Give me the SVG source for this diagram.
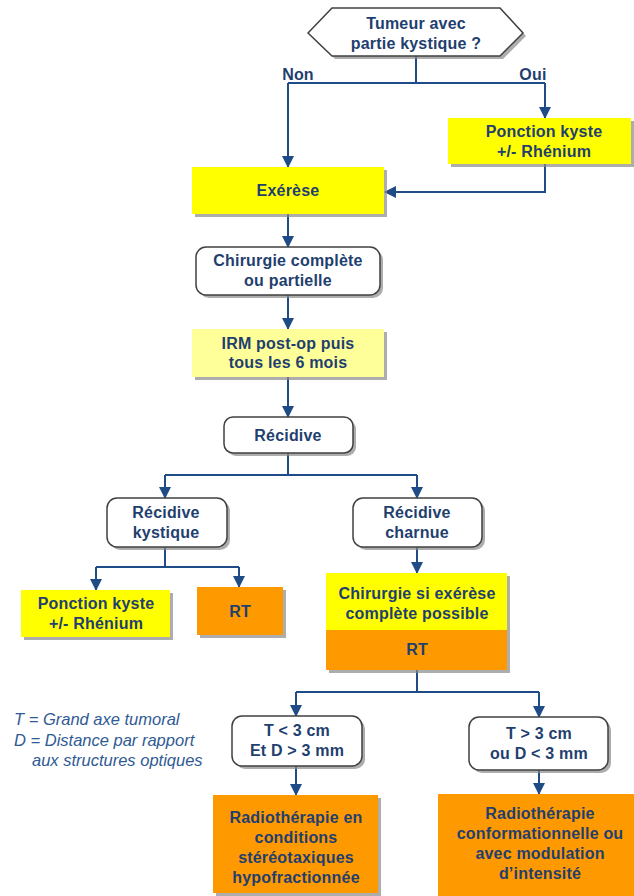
<svg xmlns="http://www.w3.org/2000/svg" width="634" height="896" viewBox="0 0 634 896">
<style>
.t{font-family:"Liberation Sans",Arial,sans-serif;font-weight:bold;font-size:16px;letter-spacing:0.2px;fill:#1F3F6F;text-anchor:middle}
.lg{font-family:"Liberation Sans",Arial,sans-serif;font-style:italic;font-size:16.5px;fill:#2F5A94}
.sh{fill:#8a8a8a;opacity:0.7}
.w{fill:#ffffff;stroke:#404040;stroke-width:1.5}
.y{fill:#ffff00}
.ly{fill:#ffff99}
.o{fill:#ff9900}
.c{fill:none;stroke:#1F4C86;stroke-width:2}
</style>
<defs>
<marker id="ah" markerUnits="userSpaceOnUse" markerWidth="12" markerHeight="12" viewBox="0 0 12 12" refX="11" refY="6" orient="auto">
<path d="M0,0 L12,6 L0,12 Z" fill="#1F4C86"/>
</marker>
</defs>
<rect width="634" height="896" fill="#ffffff"/>
<g id="connectors">
<path class="c" d="M416,56 V83 M288,83 H545"/>
<path class="c" d="M288,83 V167" marker-end="url(#ah)"/>
<path class="c" d="M545,83 V118" marker-end="url(#ah)"/>
<path class="c" d="M545,164 V192 H385" marker-end="url(#ah)"/>
<path class="c" d="M288,214 V247" marker-end="url(#ah)"/>
<path class="c" d="M288,295 V329" marker-end="url(#ah)"/>
<path class="c" d="M288,377 V417" marker-end="url(#ah)"/>
<path class="c" d="M288,453 V475 M165,475 H417"/>
<path class="c" d="M165,475 V498" marker-end="url(#ah)"/>
<path class="c" d="M417,475 V498" marker-end="url(#ah)"/>
<path class="c" d="M165,547 V567 M96,567 H239"/>
<path class="c" d="M96,567 V590" marker-end="url(#ah)"/>
<path class="c" d="M239,567 V587" marker-end="url(#ah)"/>
<path class="c" d="M417,547 V573" marker-end="url(#ah)"/>
<path class="c" d="M417,670 V692 M296,692 H539"/>
<path class="c" d="M296,692 V716" marker-end="url(#ah)"/>
<path class="c" d="M539,692 V717" marker-end="url(#ah)"/>
<path class="c" d="M296,766 V795" marker-end="url(#ah)"/>
<path class="c" d="M539,770 V794" marker-end="url(#ah)"/>
<text class="t" x="298" y="80">Non</text>
<text class="t" x="533" y="80">Oui</text>
</g>
<g id="question">
<polygon class="sh" points="311,36 335,11 503,11 526,36 503,59 335,59"/>
<polygon class="w" points="308,33 332,8 500,8 523,33 500,56 332,56"/>
<text class="t" x="416" y="29">Tumeur avec</text>
<text class="t" x="416" y="49">partie kystique ?</text>
</g>
<g id="ponction1">
<rect class="sh" x="451" y="121" width="183" height="46"/>
<rect class="y" x="448" y="118" width="183" height="46"/>
<text class="t" x="544" y="137">Ponction kyste</text>
<text class="t" x="544" y="157">+/- Rhénium</text>
</g>
<g id="exerese">
<rect class="sh" x="195" y="170" width="192" height="47"/>
<rect class="y" x="192" y="167" width="192" height="47"/>
<text class="t" x="288" y="196">Exérèse</text>
</g>
<g id="chirurgie">
<rect class="sh" x="199" y="250" width="184" height="48" rx="10"/>
<rect class="w" x="196" y="247" width="184" height="48" rx="10"/>
<text class="t" x="288" y="266">Chirurgie complète</text>
<text class="t" x="288" y="286">ou partielle</text>
</g>
<g id="irm">
<rect class="sh" x="195" y="332" width="192" height="48"/>
<rect class="ly" x="192" y="329" width="192" height="48"/>
<text class="t" x="288" y="349">IRM post-op puis</text>
<text class="t" x="288" y="368">tous les 6 mois</text>
</g>
<g id="recidive">
<rect class="sh" x="227" y="420" width="129" height="36" rx="9"/>
<rect class="w" x="224" y="417" width="129" height="36" rx="9"/>
<text class="t" x="288" y="441">Récidive</text>
</g>
<g id="recidive-kystique">
<rect class="sh" x="110" y="501" width="120" height="49" rx="10"/>
<rect class="w" x="107" y="498" width="120" height="49" rx="10"/>
<text class="t" x="166" y="518">Récidive</text>
<text class="t" x="166" y="538">kystique</text>
</g>
<g id="recidive-charnue">
<rect class="sh" x="356" y="501" width="129" height="49" rx="10"/>
<rect class="w" x="353" y="498" width="129" height="49" rx="10"/>
<text class="t" x="417" y="518">Récidive</text>
<text class="t" x="417" y="538">charnue</text>
</g>
<g id="ponction2">
<rect class="sh" x="24" y="593" width="149" height="47"/>
<rect class="y" x="21" y="590" width="149" height="47"/>
<text class="t" x="96" y="609">Ponction kyste</text>
<text class="t" x="96" y="629">+/- Rhénium</text>
</g>
<g id="rt1">
<rect class="sh" x="200" y="590" width="86" height="48"/>
<rect class="o" x="197" y="587" width="86" height="48"/>
<text class="t" x="240" y="617">RT</text>
</g>
<g id="chirurgie-rt">
<rect class="sh" x="329" y="576" width="181" height="97"/>
<rect class="y" x="326" y="573" width="181" height="57"/>
<rect class="o" x="326" y="630" width="181" height="40"/>
<text class="t" x="417" y="599">Chirurgie si exérèse</text>
<text class="t" x="417" y="619">complète possible</text>
<text class="t" x="417" y="655">RT</text>
</g>
<g id="t-small">
<rect class="sh" x="235" y="719" width="130" height="50" rx="10"/>
<rect class="w" x="232" y="716" width="130" height="50" rx="10"/>
<text class="t" x="297" y="736">T &lt; 3 cm</text>
<text class="t" x="297" y="756">Et D &gt; 3 mm</text>
</g>
<g id="t-large">
<rect class="sh" x="472" y="720" width="139" height="53" rx="10"/>
<rect class="w" x="469" y="717" width="139" height="53" rx="10"/>
<text class="t" x="539" y="739">T &gt; 3 cm</text>
<text class="t" x="539" y="759">ou D &lt; 3 mm</text>
</g>
<g id="radio-stereo">
<rect class="sh" x="216" y="798" width="165" height="98"/>
<rect class="o" x="213" y="795" width="165" height="98"/>
<text class="t" x="296" y="823">Radiothérapie en</text>
<text class="t" x="296" y="843">conditions</text>
<text class="t" x="296" y="863">stéréotaxiques</text>
<text class="t" x="296" y="883">hypofractionnée</text>
</g>
<g id="radio-conf">
<rect class="o" x="438" y="794" width="196" height="102"/>
<text class="t" x="540" y="819">Radiothérapie</text>
<text class="t" x="540" y="839">conformationnelle ou</text>
<text class="t" x="540" y="859">avec modulation</text>
<text class="t" x="540" y="879">d’intensité</text>
</g>
<g id="legend">
<text class="lg" x="14" y="725">T = Grand axe tumoral</text>
<text class="lg" x="14" y="746">D = Distance par rapport</text>
<text class="lg" x="32" y="766">aux structures optiques</text>
</g>
</svg>
